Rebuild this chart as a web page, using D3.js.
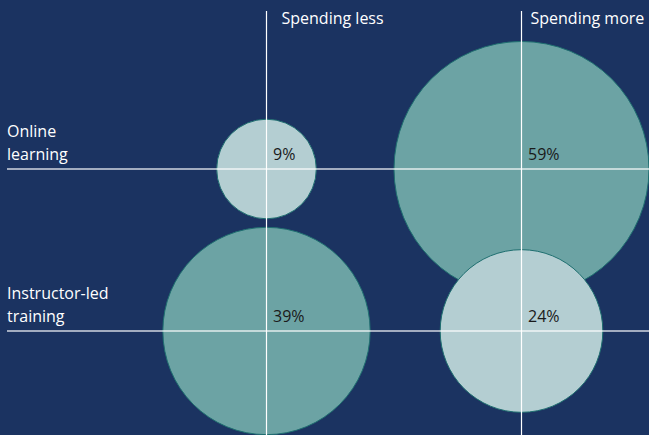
<!DOCTYPE html>
<html>
<head>
<meta charset="utf-8">
<script src="https://cdn.jsdelivr.net/npm/d3@7"></script>
<style>
  html, body { margin: 0; padding: 0; background: #1b3361; }
  svg { display: block; }
</style>
</head>
<body>
<svg id="chart" width="649" height="435"></svg>
<script>
const columns = ["Spending less", "Spending more"]
const rows = [["Online", "learning"], ["Instructor-led", "training"]]
const rowKeys = ["Online learning", "Instructor-led training"]
// share of respondents, row by row
const values = [[9, 59], [39, 24]]

const width = 649, height = 435
const svg = d3.select('#chart')

svg.append('rect').attr('width', width).attr('height', height).attr('fill', '#1b3361')

const x = d3.scalePoint().domain(columns).range([266.5, 521.5])
const y = d3.scalePoint().domain(rowKeys).range([169, 331])
const r = d3.scaleSqrt().domain([0, 100]).range([0, 166])

const cells = []
values.forEach((row, i) => row.forEach((v, j) => {
  cells.push({row: rowKeys[i], col: columns[j], value: v, light: (i + j) % 2 === 0})
}))

svg.selectAll('circle.bubble')
  .data(cells)
  .join('circle')
  .attr('class', 'bubble')
  .attr('cx', d => x(d.col))
  .attr('cy', d => y(d.row))
  .attr('r', d => r(d.value))
  .attr('fill', d => d.light ? '#b4ced2' : '#6ca3a4')
  .attr('stroke', '#1f6f70')
  .attr('stroke-width', 1)

// gridlines
svg.selectAll('line.h')
  .data(rowKeys)
  .join('line')
  .attr('class', 'h')
  .attr('x1', 7).attr('x2', width)
  .attr('y1', d => y(d)).attr('y2', d => y(d))
  .attr('stroke', '#ffffff').attr('stroke-opacity', 0.8).attr('stroke-width', 1.3)

svg.selectAll('line.v')
  .data(columns)
  .join('line')
  .attr('class', 'v')
  .attr('x1', d => x(d)).attr('x2', d => x(d))
  .attr('y1', 11).attr('y2', height)
  .attr('stroke', '#ffffff').attr('stroke-width', 1.2)

const font = '"Open Sans", sans-serif'

svg.selectAll('text.col')
  .data(columns)
  .join('text')
  .attr('class', 'col')
  .attr('x', (d, i) => x(d) + (i === 0 ? 15 : 9))
  .attr('y', 24)
  .attr('fill', '#ffffff')
  .style('font', '16px ' + font)
  .text(d => d)

rows.forEach((lines, i) => {
  const t = svg.append('text')
    .attr('x', 7)
    .attr('fill', '#ffffff')
    .style('font', '16px ' + font)
  lines.forEach((s, k) => {
    t.append('tspan').attr('x', 7)
      .attr('y', y(rowKeys[i]) - 9 - (lines.length - 1 - k) * 23)
      .text(s)
  })
})

svg.selectAll('text.val')
  .data(cells)
  .join('text')
  .attr('class', 'val')
  .attr('x', d => x(d.col) + 6.5)
  .attr('y', d => y(d.row) - 9)
  .attr('fill', '#1a1a1a')
  .style('font', '16px ' + font)
  .text(d => d.value + '%')
</script>
</body>
</html>
